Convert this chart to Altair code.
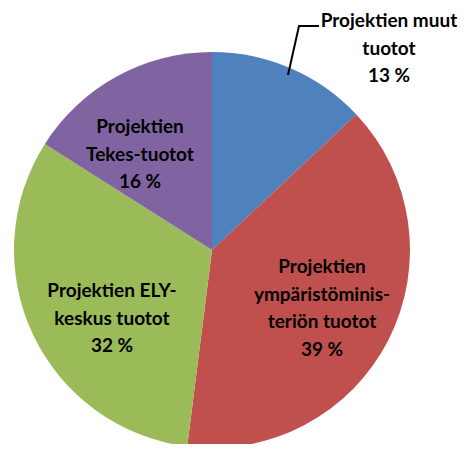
import altair as alt
import pandas as pd

categories = ["Projektien muut tuotot", "Projektien ympäristöministeriön tuotot",
              "Projektien ELY-keskus tuotot", "Projektien Tekes-tuotot"]
values = [13, 39, 32, 16]
colors = ["#4F81BD", "#C0504D", "#9BBB59", "#8064A2"]
label_lines = [
    ["Projektien muut", "tuotot", "13 %"],
    ["Projektien", "ympäristöminis-", "teriön tuotot", "39 %"],
    ["Projektien ELY-", "keskus tuotot", "32 %"],
    ["Projektien", "Tekes-tuotot", "16 %"],
]

# layout (pixel positions in chart coordinates)
CX, CY, R = 204, 242, 198
label_anchor = [(381, 13), (314, 259), (104, 283), (132, 119)]
LINE_H = 27.5
leader = [(280, 67), (291, 18), (311, 18)]

pie_df = pd.DataFrame({"cat": categories, "value": values, "order": list(range(len(values)))})

rows = []
for i, lines in enumerate(label_lines):
    ax, ay = label_anchor[i]
    for j, t in enumerate(lines):
        rows.append({"text": t, "x": ax, "y": ay + j * LINE_H})
lab_df = pd.DataFrame(rows)
lead_df = pd.DataFrame({"x": [p[0] for p in leader], "y": [p[1] for p in leader], "o": [0, 1, 2]})

pie = alt.Chart(pie_df).mark_arc(radius=R).encode(
    theta=alt.Theta("value:Q", stack=True),
    color=alt.Color("cat:N", scale=alt.Scale(domain=categories, range=colors), legend=None),
    order=alt.Order("order:Q"),
    x=alt.value(CX),
    y=alt.value(CY),
)

text = alt.Chart(lab_df).mark_text(
    font="Lato", fontWeight="bold", fontSize=19, color="#000000", baseline="middle", align="center"
).encode(
    x=alt.X("x:Q", scale=None, axis=None),
    y=alt.Y("y:Q", scale=None, axis=None),
    text="text:N",
)

line = alt.Chart(lead_df).mark_line(color="#000000", strokeWidth=2).encode(
    x=alt.X("x:Q", scale=None, axis=None),
    y=alt.Y("y:Q", scale=None, axis=None),
    order="o:Q",
)

chart = alt.layer(pie, line, text).properties(
    width=457, height=436, autosize=alt.AutoSizeParams(type="none"), padding=0
).configure_view(stroke="transparent", strokeWidth=0).configure_axis(
    domain=False, grid=False, ticks=False, labels=False
)

chart.save("out.html", embed_options={"renderer": "svg", "actions": False})
